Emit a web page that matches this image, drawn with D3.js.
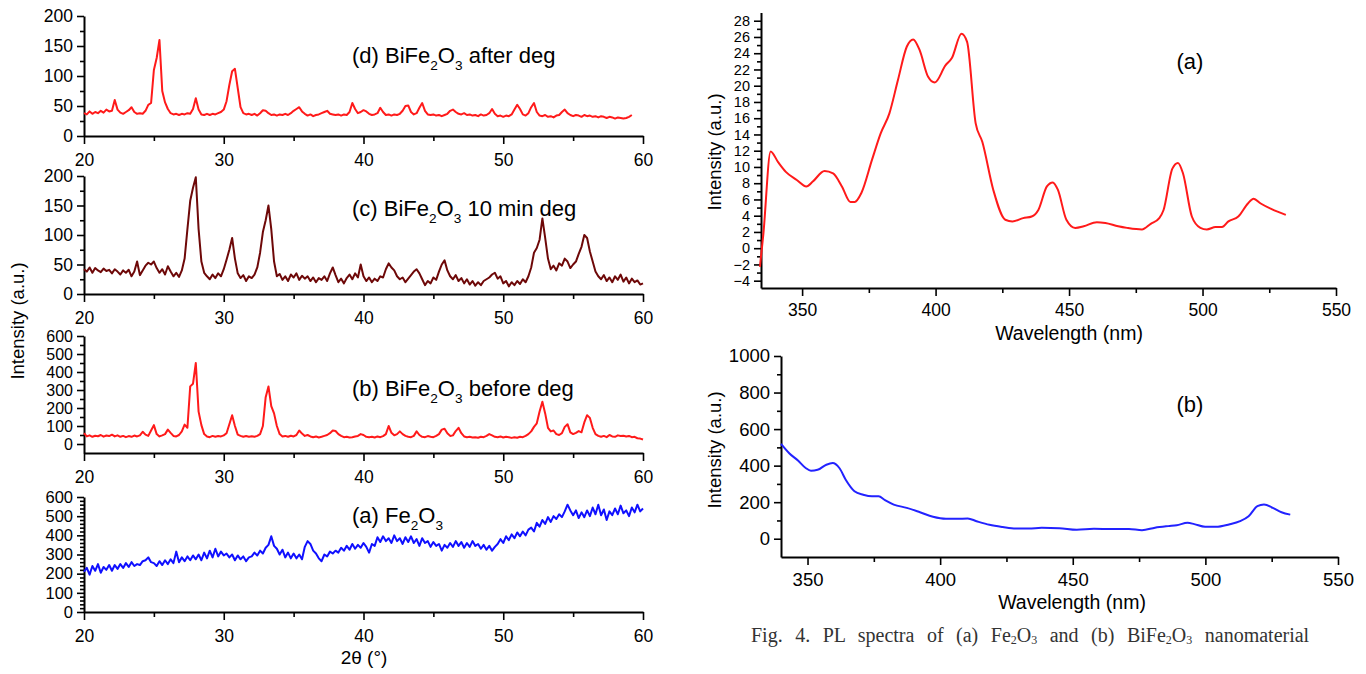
<!DOCTYPE html>
<html>
<head>
<meta charset="utf-8">
<script src="https://cdn.jsdelivr.net/npm/d3@7"></script>
<style>
body { margin: 0; background: #fff; }
</style>
</head>
<body>
<svg id="fig" width="1366" height="674" font-family='"Liberation Sans", Arial, sans-serif'></svg>
<script>
// XRD patterns, sampled every 0.2 degree starting at 20 degrees
const xrdStart = 20, xrdStep = 0.2;

// (d) BiFe2O3 after deg (ends at 59.2)
const afterDeg = [
  38,36,41,37,40,38,42,39,44,41, 42,60,44,39,37,40,43,48,40,37,
  38,37,42,52,55,110,130,160,75,56, 45,38,36,37,35,37,36,38,37,45,
  63,44,36,35,37,35,37,36,38,40, 44,58,85,108,112,80,48,38,36,37,
  35,37,34,38,43,42,38,35,36,34, 36,35,37,35,38,42,45,48,41,37,
  34,36,33,35,36,38,40,42,37,36, 35,36,34,36,35,40,55,45,38,40,
  43,41,37,35,36,38,47,40,35,36, 34,36,35,37,42,50,51,40,36,38,
  47,55,42,36,35,36,34,35,33,35, 37,42,44,40,37,36,38,35,36,34,
  35,33,36,34,35,38,45,37,33,34, 32,34,33,36,44,52,45,36,34,38,
  48,55,40,34,33,35,32,33,31,34, 35,40,44,38,35,33,35,34,32,35,
  33,34,32,33,31,33,32,30,32,31, 29,31,30,29,30,32,35
];

// (c) BiFe2O3 10 min deg
const tenMinDeg = [
  42,38,45,36,44,40,37,43,39,41, 35,42,38,33,40,36,41,30,38,55,
  32,40,48,53,50,55,44,36,42,33, 47,38,30,36,29,40,60,110,158,180,
  198,110,55,36,30,25,33,27,35,30, 42,58,75,95,60,35,27,32,22,30,
  27,33,45,70,105,125,150,110,55,30, 34,24,30,22,33,28,35,24,31,26,
  30,22,28,20,27,24,30,22,35,45, 32,20,26,18,27,33,25,35,28,50,
  30,22,28,20,26,22,30,28,42,52, 45,40,30,25,28,20,26,32,38,42,
  35,25,15,22,18,28,24,38,50,57, 40,30,25,32,22,27,18,25,16,22,
  14,20,15,22,25,28,33,36,26,30, 18,22,13,20,15,22,17,25,20,30,
  45,70,78,92,128,95,60,42,48,40, 52,48,60,55,44,50,55,68,80,100,
  95,72,55,38,30,25,32,22,28,20, 30,24,33,21,28,18,26,20,23,16,
  18
];

// (b) BiFe2O3 before deg
const beforeDeg = [
  60,42,48,40,46,43,50,41,47,44, 52,42,48,40,45,38,44,40,47,42,
  48,68,52,45,75,105,55,42,48,55, 80,62,45,42,50,70,108,90,320,335,
  450,180,105,55,42,38,45,40,44,42, 48,60,110,160,100,52,45,40,44,40,
  43,40,45,55,100,260,320,210,170,100, 55,42,45,40,46,42,50,75,58,45,
  50,42,38,42,36,40,45,50,60,75, 72,55,45,38,40,36,38,42,45,55,
  50,40,38,40,36,42,38,44,55,100, 62,48,55,70,55,45,40,38,45,70,
  50,40,38,44,40,38,45,55,80,85, 60,45,48,72,90,60,42,38,40,36,
  38,35,40,38,45,55,48,40,38,42, 36,40,38,34,38,35,40,38,45,55,
  70,95,115,180,235,170,90,70,75,55, 50,60,95,110,65,55,62,72,65,120,
  160,145,90,55,45,40,45,38,50,42, 40,48,44,46,42,45,38,40,32,30,
  25
];

// (a) Fe2O3
const fe2o3Xrd = [
  210,230,195,240,215,250,205,235,220,245, 215,245,225,250,230,255,235,260,240,250,
  245,265,270,285,260,255,240,265,245,270, 250,275,255,315,260,285,265,290,270,295,
  275,300,270,310,280,320,285,330,290,315, 295,305,285,300,270,295,275,290,265,285,
  290,310,295,320,305,335,350,395,345,330, 300,325,285,310,280,305,280,300,275,340,
  370,355,320,305,280,265,300,290,315,305, 320,310,335,320,345,325,355,330,350,335,
  360,340,310,355,345,390,365,395,370,385, 360,400,370,385,355,390,365,395,360,380,
  345,385,360,370,340,365,345,355,320,350, 335,360,340,370,345,365,335,360,340,370,
  345,355,330,350,325,345,320,340,355,380, 360,395,375,405,385,415,395,420,400,430,
  440,420,465,445,480,460,495,470,500,485, 510,495,525,560,530,505,530,490,520,495,
  530,500,545,510,560,505,535,480,525,505, 540,510,555,515,530,500,545,520,560,525,
  540
];

// PL spectra: [wavelength nm, intensity]
const plFe2o3 = [
  [334.2,-2.3],[335.5,1.8],[338.2,11.9],[341,10.6],[343.9,9.4],[348,8.4],[351.6,7.6],[354,8.2],
  [358.4,9.5],[361.6,9.2],[364.9,7.6],[368.1,5.7],[369.7,5.7],[372.2,6.8],[376.2,10.9],
  [379.4,14.1],[382.7,16.6],[385.9,20.7],[389.2,24.8],[391.6,25.7],[394,24.4],[397.2,21.1],
  [399.7,20.4],[403.7,22.5],[406.1,23.4],[409.7,26.4],[411.8,25.4],[415,15.4],[417.5,13.1],
  [421.6,7.2],[426.1,3.5],[428.8,3.3],[432.8,3.7],[436,3.9],[438.5,4.7],[441.7,7.6],[443.9,8.1],
  [445.8,7.2],[449,3.5],[452.3,2.5],[455.5,2.7],[460.4,3.2],[463.6,3.1],[468.4,2.7],[471.7,2.5],
  [477.3,2.3],[480.6,3.0],[483.8,3.7],[485.4,4.7],[488.7,9.8],[490.8,10.5],[492.7,9.2],[496,3.9],
  [499.2,2.5],[501.6,2.3],[504.9,2.6],[507.3,2.6],[509.7,3.3],[513.4,3.9],[517,5.5],[519.1,6.1],
  [521.8,5.5],[525.9,4.8],[531.2,4.1]
];
const plBiFe2O3 = [
  [340,519],[343.1,468],[346.4,428],[349.3,387],[351.3,372],[353.8,377],[357.1,405],[359.5,414],
  [362,387],[364.4,323],[367.7,260],[371,241],[374.3,232],[376.8,232],[379.2,211],[382.5,187],
  [387.4,169],[392.4,145],[397.3,120],[402.2,109],[406.3,109],[410.4,111],[413.7,96],[418.6,76],
  [423.6,64],[428.5,56],[433.4,56],[438.3,60],[444.9,58],[451.5,49],[458,54],[464.6,53],
  [471.2,53],[476.1,47],[481,60],[486,69],[489.2,74],[493.3,87],[495.8,80],[499.9,65],[504,65],
  [508.9,78],[513.1,96],[516.3,123],[519.6,178],[522.1,187],[525.4,169],[528.7,145],[532,132]
];

// tick values
const xrdTicks = [20, 30, 40, 50, 60];
const xrdMinor = [25, 35, 45, 55];
const plTicks = [350, 400, 450, 500, 550];
const plMinor = [375, 425, 475, 525];

const svg = d3.select("#fig");
const FONT = '"Liberation Sans", Arial, sans-serif';
const SERIF = '"Liberation Serif", "Times New Roman", serif';

function drawAxes(g, x, y, o) {
  const x0 = x.range()[0], yb = y.range()[0];
  g.append("g").attr("transform", `translate(0,${yb})`)
    .call(d3.axisBottom(x).tickValues(o.xMinor).tickSize(5).tickFormat(""))
    .call(a => a.select(".domain").remove());
  g.append("g").attr("transform", `translate(${x0},0)`)
    .call(d3.axisLeft(y).tickValues(o.yMinor).tickSize(4).tickFormat(""))
    .call(a => a.select(".domain").remove());
  const xa = g.append("g").attr("transform", `translate(0,${yb})`)
    .call(d3.axisBottom(x).tickValues(o.xMajor).tickSize(8).tickSizeOuter(0)
      .tickPadding(o.xPad).tickFormat(d3.format("d")));
  const ya = g.append("g").attr("transform", `translate(${x0},0)`)
    .call(d3.axisLeft(y).tickValues(o.yMajor).tickSize(7).tickSizeOuter(0)
      .tickPadding(4).tickFormat(d3.format("d")));
  g.selectAll(".tick line").attr("stroke-width", 1.6);
  xa.attr("font-family", FONT).attr("font-size", o.fs);
  ya.attr("font-family", FONT).attr("font-size", o.yfs || o.fs);
  [xa, ya].forEach(a => {
    a.select(".domain").attr("stroke-width", 2);
    a.selectAll("text").attr("fill", "#000");
  });
}

function panel(o) {
  const x = d3.scaleLinear().domain(o.xDomain).range(o.xRange);
  const y = d3.scaleLinear().domain(o.yDomain).range(o.yRange);
  const g = svg.append("g");
  drawAxes(g, x, y, o);
  const line = d3.line().x(d => x(d[0])).y(d => y(d[1])).curve(o.curve || d3.curveLinear);
  g.append("path").datum(o.data)
    .attr("fill", "none")
    .attr("stroke", o.color)
    .attr("stroke-width", o.lw)
    .attr("stroke-linejoin", "round")
    .attr("d", line);
}

const xrdPairs = arr => arr.map((v, i) => [xrdStart + i * xrdStep, v]);

// left: XRD panels
const xrdCommon = { xDomain: [20, 60], xRange: [84, 643], xMajor: xrdTicks, xMinor: xrdMinor, xPad: 10, fs: 17.5, lw: 2 };
panel({ ...xrdCommon, yDomain: [0, 200], yRange: [136, 16], yMajor: [0, 50, 100, 150, 200], yMinor: [25, 75, 125, 175],
  data: xrdPairs(afterDeg), color: "#ff1a1a" });
panel({ ...xrdCommon, yDomain: [0, 200], yRange: [294, 176], yMajor: [0, 50, 100, 150, 200], yMinor: [25, 75, 125, 175],
  data: xrdPairs(tenMinDeg), color: "#6e0808" });
panel({ ...xrdCommon, yDomain: [-50, 600], yRange: [453, 336], yfs: 16, yMajor: [0, 100, 200, 300, 400, 500, 600], yMinor: [50, 150, 250, 350, 450, 550],
  data: xrdPairs(beforeDeg), color: "#ff1a1a" });
panel({ ...xrdCommon, yDomain: [0, 600], yRange: [612, 497], yfs: 16.5, yMajor: [0, 100, 200, 300, 400, 500, 600],
  yMinor: d3.range(20, 600, 20).filter(v => v % 100 !== 0),
  data: xrdPairs(fe2o3Xrd), color: "#1010ff" });

// right: PL panels
panel({ xDomain: [334.6, 550], xRange: [761, 1336], xMajor: plTicks, xMinor: plMinor, xPad: 8, fs: 17.5, yfs: 14.5,
  yDomain: [-4.9, 29], yRange: [288, 12.6], yMajor: d3.range(-4, 29, 2), yMinor: d3.range(-3, 28, 2),
  data: plFe2o3, color: "#ff1a1a", lw: 2, curve: d3.curveMonotoneX });
panel({ xDomain: [340, 550], xRange: [781, 1338], xMajor: plTicks, xMinor: plMinor, xPad: 8, fs: 18.5,
  yDomain: [-100, 1000], yRange: [557, 356], yMajor: [0, 200, 400, 600, 800, 1000], yMinor: [100, 300, 500, 700, 900],
  data: plBiFe2O3, color: "#2222ff", lw: 2, curve: d3.curveMonotoneX });

// text with subscripts: parts are [text, isSubscript]
function richText(x, y, parts, size, opts) {
  opts = opts || {};
  const t = svg.append("text").attr("x", x).attr("y", y)
    .attr("font-size", size)
    .attr("text-anchor", opts.anchor || "start")
    .attr("fill", opts.fill || "#000")
    .style("font-family", opts.family || FONT);
  const shift = size * (opts.shift || 0.3);
  let prevSub = false;
  parts.forEach(p => {
    const s = t.append("tspan").text(p[0]);
    if (p[1]) s.attr("dy", shift).attr("font-size", size * (opts.subScale || 0.62));
    else if (prevSub) s.attr("dy", -shift);
    prevSub = !!p[1];
  });
  if (opts.wordSpacing) t.style("word-spacing", opts.wordSpacing);
  return t;
}

richText(352, 63, [["(d) BiFe"], ["2", 1], ["O"], ["3", 1], [" after deg"]], 22);
richText(352, 216, [["(c) BiFe"], ["2", 1], ["O"], ["3", 1], [" 10 min deg"]], 22);
richText(352, 396, [["(b) BiFe"], ["2", 1], ["O"], ["3", 1], [" before deg"]], 22);
richText(352, 523, [["(a) Fe"], ["2", 1], ["O"], ["3", 1]], 22);
richText(1190, 69, [["(a)"]], 22, { anchor: "middle" });
richText(1190, 412, [["(b)"]], 22, { anchor: "middle" });

// axis titles
svg.append("text").attr("transform", "translate(24,321) rotate(-90)")
  .attr("text-anchor", "middle").attr("font-size", 18.5).text("Intensity (a.u.)");
svg.append("text").attr("transform", "translate(721,152) rotate(-90)")
  .attr("text-anchor", "middle").attr("font-size", 18.5).text("Intensity (a.u.)");
svg.append("text").attr("transform", "translate(721,450) rotate(-90)")
  .attr("text-anchor", "middle").attr("font-size", 18.5).text("Intensity (a.u.)");
svg.append("text").attr("x", 364).attr("y", 664)
  .attr("text-anchor", "middle").attr("font-size", 19).text("2\u03b8 (\u00b0)");
svg.append("text").attr("x", 1069).attr("y", 340)
  .attr("text-anchor", "middle").attr("font-size", 19.5).text("Wavelength (nm)");
svg.append("text").attr("x", 1072).attr("y", 609)
  .attr("text-anchor", "middle").attr("font-size", 19.5).text("Wavelength (nm)");

// caption
richText(751, 642, [["Fig. 4. PL spectra of (a) Fe"], ["2", 1], ["O"], ["3", 1], [" and (b) BiFe"], ["2", 1], ["O"], ["3", 1], [" nanomaterial"]],
  20, { family: SERIF, fill: "#333", wordSpacing: "7.5px", subScale: 0.6, shift: 0.12 });
</script>
</body>
</html>
